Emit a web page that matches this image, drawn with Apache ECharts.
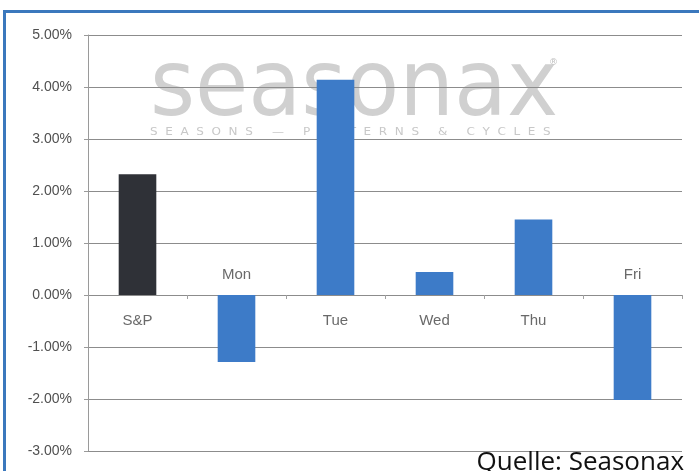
<!DOCTYPE html>
<html>
<head>
<meta charset="utf-8">
<script src="https://cdn.jsdelivr.net/npm/echarts@6/dist/echarts.min.js"></script>
<style>
  html, body { margin: 0; padding: 0; background: #fff; }
  #chart { width: 699px; height: 471px; }
</style>
</head>
<body>
<div id="chart"></div>
<script>
// Wochentags-Performance vs. S&P
var categories = ['S&P', 'Mon', 'Tue', 'Wed', 'Thu', 'Fri'];
var values = [2.32, -1.29, 4.14, 0.44, 1.45, -2.02];
var barColors = ['#2f3137', '#3d7bc8', '#3d7bc8', '#3d7bc8', '#3d7bc8', '#3d7bc8'];
var yTicks = { min: -3, max: 5, step: 1 };

function initChart() {
    var chart = echarts.init(document.getElementById('chart'), null, { renderer: 'canvas' });

    var barData = values.map(function (v, i) {
        return { value: v, itemStyle: { color: barColors[i] } };
    });
    // Beschriftung: positive Balken unter der Nulllinie, negative darüber
    var labelData = values.map(function (v, i) {
        return {
            value: [categories[i], 0],
            label: v >= 0 ? { position: 'bottom', distance: 18 } : { position: 'top', distance: 13 }
        };
    });

    chart.setOption({
        backgroundColor: '#ffffff',
        animation: false,
        grid: { left: 88, right: 17, top: 35, bottom: 20 },
        xAxis: {
            type: 'category',
            data: categories,
            axisLine: { onZero: true, lineStyle: { color: '#8c8c8c', width: 1 } },
            axisTick: { show: true, length: 4, lineStyle: { color: '#a0a0a0' } },
            axisLabel: { show: false },
            splitLine: { show: false }
        },
        yAxis: {
            type: 'value',
            min: yTicks.min,
            max: yTicks.max,
            interval: yTicks.step,
            axisLine: { show: true, lineStyle: { color: '#9a9a9a' } },
            axisTick: { show: true, length: 4, lineStyle: { color: '#9a9a9a' } },
            axisLabel: {
                margin: 16,
                color: '#505050',
                fontFamily: 'Liberation Sans',
                fontSize: 14,
                formatter: function (v) { return v.toFixed(2) + '%'; }
            },
            splitLine: { lineStyle: { color: '#8c8c8c', width: 1 } }
        },
        graphic: [
            // Rahmen oben und links
            { type: 'rect', shape: { x: 3, y: 10, width: 696, height: 3 }, style: { fill: '#3b78bd' } },
            { type: 'rect', shape: { x: 3, y: 10, width: 3, height: 461 }, style: { fill: '#3b78bd' } },
            // Wasserzeichen
            {
                type: 'text', x: 150, y: 45, scaleX: 0.94, z: -10,
                style: {
                    text: 'seasonax', fill: '#d0d0d0',
                    font: '92px "DejaVu Sans"', verticalAlign: 'top'
                }
            },
            {
                type: 'text', x: 549, y: 58, z: -10,
                style: { text: '®', fill: '#c0c0c0', font: '9px "DejaVu Sans"', verticalAlign: 'top' }
            },
            {
                type: 'text', x: 150, y: 132, scaleX: 1.2, z: -10,
                style: {
                    text: 'S  E  A  S  O  N  S     —     P  A  T  T  E  R  N  S     &     C  Y  C  L  E  S',
                    fill: '#c8c8c8', font: '10px "DejaVu Sans"', verticalAlign: 'middle'
                }
            },
            {
                type: 'text', x: 684, y: 450, z: 10,
                style: {
                    text: 'Quelle: Seasonax', fill: '#111',
                    font: '26px "Open Sans"', align: 'right', verticalAlign: 'top'
                }
            }
        ],
        series: [
            {
                type: 'bar',
                data: barData,
                barWidth: '38%'
            },
            {
                type: 'scatter',
                data: labelData,
                symbolSize: 0,
                silent: true,
                label: {
                    show: true,
                    color: '#444',
                    fontFamily: 'Liberation Sans',
                    fontSize: 15,
                    formatter: function (p) { return categories[p.dataIndex]; }
                }
            }
        ]
    });
}

initChart();
</script>
</body>
</html>
